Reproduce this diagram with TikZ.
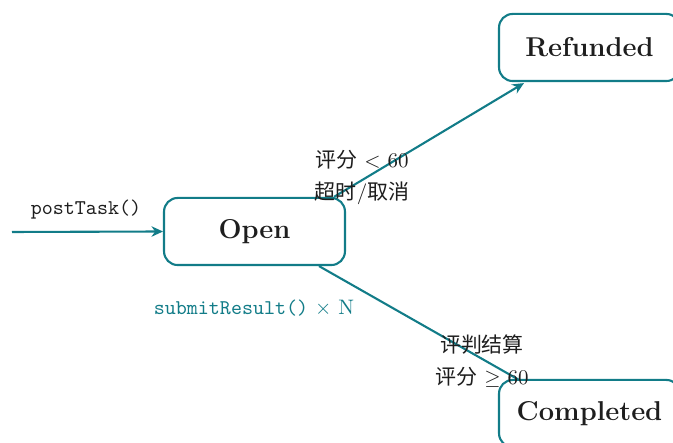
\documentclass[tikz,border=0pt]{standalone}
\usepackage{fontspec}
\newfontfamily\cjk{Noto Sans CJK SC}
\usetikzlibrary{arrows.meta,calc}
\definecolor{teal1}{RGB}{18,124,136}
\definecolor{ink}{RGB}{30,30,30}
\tikzset{
  state/.style={draw=teal1, line width=1pt, rounded corners=6.5pt, fill=white,
    minimum width=86.3pt, minimum height=32pt, font=\fontsize{13}{15}\selectfont\bfseries, text=ink},
  trans/.style={draw=teal1, line width=1pt, -{Stealth[length=5.5pt,width=5pt]}},
  plain/.style={draw=teal1, line width=1pt},
  lbl/.style={font=\normalsize, text=ink, inner sep=0pt}
}
\begin{document}
\begin{tikzpicture}[x=0.477pt,y=-0.477pt]
\useasboundingbox (0,0) rectangle (673,443);
\node[state] (open) at (254.5,231.5) {Open};
\node[state] (ref) at (589.5,47.5) {Refunded};
\node[state] (comp) at (589.5,413.5) {Completed};
\coordinate (start) at (12,232);
\draw[trans] (start) -- (open.west);
\node[lbl] (post) at (86,210) {\ttfamily postTask()};
\draw[trans] ($(open.north east)+(-12,0)$) -- ($(ref.south west)+(26,1)$);
\node[lbl] (r1) at (362,160) {{\cjk 评分} $<$ 60};
\node[lbl] (r2) at (362,193) {{\cjk 超时}/{\cjk 取消}};
\draw[plain] ($(open.south east)+(-27,0)$) -- ($(comp.north west)+(21,1)$);
\node[lbl] (c1) at (482,345) {\cjk 评判结算};
\node[lbl] (c2) at (482,377) {{\cjk 评分} $\geq$ 60};
\node[lbl, text=teal1] (sub) at (254,308) {\texttt{submitResult()} $\times$ N};
\end{tikzpicture}
\end{document}
